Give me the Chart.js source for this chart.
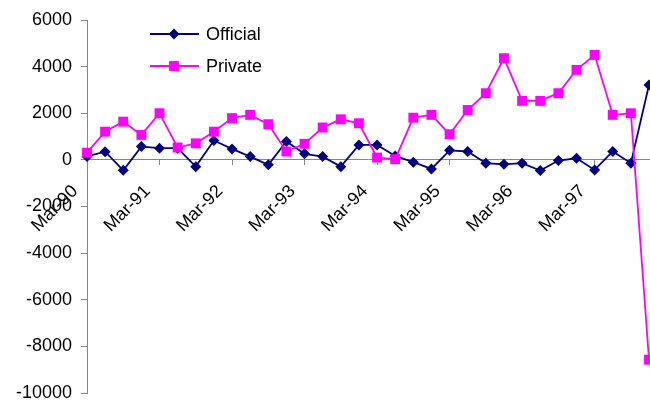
<!DOCTYPE html>
<html>
<head>
<meta charset="utf-8">
<script src="https://cdn.jsdelivr.net/npm/chart.js@4/dist/chart.umd.min.js"></script>
<style>
  html, body { margin: 0; padding: 0; background: #fff; overflow: hidden; }
  canvas { display: block; }
</style>
</head>
<body>
<!-- a few px wider than the window: the last points sit on the right edge, cut off as in the original -->
<canvas id="flows" width="656" height="401"></canvas>
<script>
// quarterly categories, Mar-90 .. Dec-97
const quarters = [
    'Mar-90', 'Jun-90', 'Sep-90', 'Dec-90',
    'Mar-91', 'Jun-91', 'Sep-91', 'Dec-91',
    'Mar-92', 'Jun-92', 'Sep-92', 'Dec-92',
    'Mar-93', 'Jun-93', 'Sep-93', 'Dec-93',
    'Mar-94', 'Jun-94', 'Sep-94', 'Dec-94',
    'Mar-95', 'Jun-95', 'Sep-95', 'Dec-95',
    'Mar-96', 'Jun-96', 'Sep-96', 'Dec-96',
    'Mar-97', 'Jun-97', 'Sep-97', 'Dec-97'
];

const officialFlows = [
    150, 350, -450, 570, 500, 500, -290, 830,
    470, 140, -210, 790, 260, 140, -290, 640,
    640, 170, -100, -390, 410, 360, -140, -190,
    -140, -460, -30, 70, -430, 360, -140, 3210
];

const privateFlows = [
    310, 1210, 1640, 1070, 2000, 530, 710, 1210,
    1790, 1930, 1530, 360, 690, 1390, 1740, 1570,
    100, 30, 1810, 1930, 1100, 2140, 2860, 4360,
    2530, 2530, 2860, 3860, 4500, 1930, 2000, -8570
];

const yTicks = [6000, 4000, 2000, 0, -2000, -4000, -6000, -8000, -10000];

const AXIS_GREY = '#868686';
const FONT = 'Liberation Sans, Arial, sans-serif';

// legend drawn inside the plot area, Excel style (line with marker)
const insideLegend = {
    id: 'insideLegend',
    afterDraw(chart) {
        const ctx = chart.ctx;
        const rows = [
            { ds: chart.data.datasets[0], y: 34 },
            { ds: chart.data.datasets[1], y: 66 }
        ];
        ctx.save();
        rows.forEach(row => {
            ctx.strokeStyle = row.ds.borderColor;
            ctx.lineWidth = row.ds.borderWidth;
            ctx.beginPath();
            ctx.moveTo(150, row.y);
            ctx.lineTo(199, row.y);
            ctx.stroke();
            ctx.fillStyle = row.ds.pointBackgroundColor;
            Chart.helpers.drawPoint(ctx, {
                pointStyle: row.ds.pointStyle,
                radius: row.ds.pointRadius,
                rotation: 0,
                borderWidth: 0
            }, 174, row.y);
            ctx.fillStyle = '#000';
            ctx.font = '18px ' + FONT;
            ctx.textBaseline = 'middle';
            ctx.textAlign = 'left';
            ctx.fillText(row.ds.label, 206, row.y + 1);
        });
        ctx.restore();
    }
};

new Chart(document.getElementById('flows'), {
    type: 'line',
    data: {
        labels: quarters,
        datasets: [
            {
                label: 'Official',
                data: officialFlows,
                borderColor: '#000080',
                backgroundColor: '#000080',
                pointBackgroundColor: '#000080',
                pointBorderColor: '#000080',
                pointStyle: 'rectRot',
                pointRadius: 5.5,
                pointBorderWidth: 0,
                borderWidth: 1.8,
                tension: 0,
                order: 1,
                clip: false
            },
            {
                label: 'Private',
                data: privateFlows,
                borderColor: '#ff00ff',
                backgroundColor: '#ff00ff',
                pointBackgroundColor: '#ff00ff',
                pointBorderColor: '#ff00ff',
                pointStyle: 'rect',
                pointRadius: 7,
                pointBorderWidth: 0,
                borderWidth: 1.8,
                tension: 0,
                order: 0,
                clip: false
            }
        ]
    },
    options: {
        responsive: false,
        animation: false,
        devicePixelRatio: 1,
        layout: {
            padding: { left: 0, right: 2, top: 20, bottom: 8 }
        },
        plugins: {
            legend: { display: false },
            tooltip: { enabled: false }
        },
        scales: {
            x: {
                position: { y: 0 },
                offset: false,
                border: { color: AXIS_GREY, width: 1 },
                grid: {
                    drawOnChartArea: false,
                    tickLength: 5,
                    color: c => (c.index % 4 === 0 ? AXIS_GREY : 'rgba(0,0,0,0)')
                },
                afterFit: scale => {
                    // axis sits at y = 0 inside the plot, so it takes no room
                    scale.height = 0;
                    scale.paddingLeft = 0;
                    scale.paddingRight = 0;
                    scale.paddingTop = 0;
                    scale.paddingBottom = 0;
                },
                ticks: {
                    autoSkip: false,
                    minRotation: 45,
                    maxRotation: 45,
                    padding: 16,
                    labelOffset: -12,
                    color: '#000',
                    font: { family: FONT, size: 18 },
                    callback: function (value, index) {
                        return index % 4 === 0 ? this.getLabelForValue(value) : '';
                    }
                }
            },
            y: {
                min: -10000,
                max: 6000,
                border: { color: AXIS_GREY, width: 1 },
                grid: {
                    drawOnChartArea: false,
                    tickLength: 6,
                    color: AXIS_GREY
                },
                afterBuildTicks: scale => {
                    scale.ticks = yTicks.map(v => ({ value: v }));
                },
                afterFit: scale => {
                    scale.width = 87;
                    scale.paddingTop = 0;
                    scale.paddingBottom = 0;
                },
                ticks: {
                    padding: 9,
                    color: '#000',
                    font: { family: FONT, size: 18 },
                    callback: value => String(value)
                }
            }
        }
    },
    plugins: [insideLegend]
});
</script>
</body>
</html>
